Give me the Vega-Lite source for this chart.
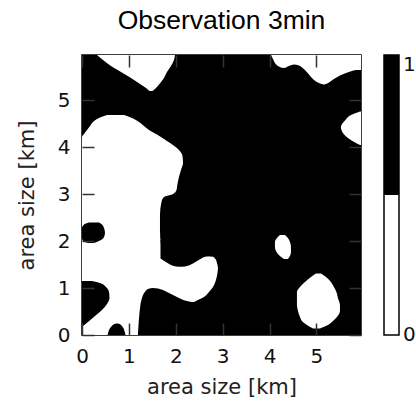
{
  "$schema": "https://vega.github.io/schema/vega-lite/v6.json",
  "width": 279,
  "height": 280,
  "autosize": {"type": "none"},
  "padding": {"left": 82, "top": 55, "right": 55, "bottom": 67},
  "title": {
    "text": "Observation 3min",
    "font": "Liberation Sans",
    "fontSize": 26.5,
    "fontWeight": "normal",
    "color": "#000",
    "anchor": "middle",
    "offset": 20
  },
  "config": {
    "view": {"fill": "#000", "stroke": "#000", "strokeWidth": 1.5},
    "axis": {
      "domain": false,
      "grid": false,
      "labelFlush": false,
      "tickSize": -12,
      "tickWidth": 1.5,
      "tickColor": "#333",
      "labelFont": "DejaVu Sans",
      "labelFontSize": 20,
      "labelColor": "#111",
      "titleFont": "DejaVu Sans",
      "titleFontSize": 21,
      "titleFontWeight": "normal",
      "titleColor": "#222"
    }
  },
  "datasets": {
    "rows": [
      {"shape": "A", "value": 0, "y": 5.97, "x1": 0.32, "x2": 1.983},
      {"shape": "A", "value": 0, "y": 5.864, "x1": 0.448, "x2": 1.962},
      {"shape": "A", "value": 0, "y": 5.736, "x1": 0.618, "x2": 1.898},
      {"shape": "A", "value": 0, "y": 5.608, "x1": 0.832, "x2": 1.812},
      {"shape": "A", "value": 0, "y": 5.48, "x1": 1.045, "x2": 1.748},
      {"shape": "A", "value": 0, "y": 5.352, "x1": 1.237, "x2": 1.652},
      {"shape": "A", "value": 0, "y": 5.267, "x1": 1.365, "x2": 1.578},
      {"shape": "A", "value": 0, "y": 5.203, "x1": 1.439, "x2": 1.503},

      {"shape": "B", "value": 0, "y": 4.691, "x1": 0.533, "x2": 0.896},
      {"shape": "B", "value": 0, "y": 4.627, "x1": 0.362, "x2": 1.066},
      {"shape": "B", "value": 0, "y": 4.542, "x1": 0.235, "x2": 1.215},
      {"shape": "B", "value": 0, "y": 4.456, "x1": 0.171, "x2": 1.322},
      {"shape": "B", "value": 0, "y": 4.371, "x1": 0.107, "x2": 1.429},
      {"shape": "B", "value": 0, "y": 4.286, "x1": 0.043, "x2": 1.578},
      {"shape": "B", "value": 0, "y": 4.222, "x1": 0, "x2": 1.684},
      {"shape": "B", "value": 0, "y": 4.136, "x1": 0, "x2": 1.812},
      {"shape": "B", "value": 0, "y": 4.051, "x1": 0, "x2": 1.94},
      {"shape": "B", "value": 0, "y": 3.945, "x1": 0, "x2": 2.068},
      {"shape": "B", "value": 0, "y": 3.817, "x1": 0, "x2": 2.143},
      {"shape": "B", "value": 0, "y": 3.667, "x1": 0, "x2": 2.154},
      {"shape": "B", "value": 0, "y": 3.518, "x1": 0, "x2": 2.111},
      {"shape": "B", "value": 0, "y": 3.369, "x1": 0, "x2": 2.068},
      {"shape": "B", "value": 0, "y": 3.22, "x1": 0, "x2": 2.036},
      {"shape": "B", "value": 0, "y": 3.092, "x1": 0, "x2": 2.015},
      {"shape": "B", "value": 0, "y": 3.006, "x1": 0, "x2": 1.94},
      {"shape": "B", "value": 0, "y": 2.942, "x1": 0, "x2": 1.748},
      {"shape": "B", "value": 0, "y": 2.836, "x1": 0, "x2": 1.695},
      {"shape": "B", "value": 0, "y": 2.559, "x1": 0, "x2": 1.663},
      {"shape": "B", "value": 0, "y": 2.239, "x1": 0, "x2": 1.663},
      {"shape": "B", "value": 0, "y": 1.919, "x1": 0, "x2": 1.684},
      {"shape": "B", "value": 0, "y": 1.812, "x1": 0, "x2": 1.706},
      {"shape": "B", "value": 0, "y": 1.706, "x1": 0, "x2": 1.727},
      {"shape": "B", "value": 0, "y": 1.674, "x1": 0, "x2": 2.783},
      {"shape": "B", "value": 0, "y": 1.62, "x1": 0, "x2": 2.846},
      {"shape": "B", "value": 0, "y": 1.535, "x1": 0, "x2": 2.878},
      {"shape": "B", "value": 0, "y": 1.429, "x1": 0, "x2": 2.9},
      {"shape": "B", "value": 0, "y": 1.322, "x1": 0, "x2": 2.889},
      {"shape": "B", "value": 0, "y": 1.173, "x1": 0, "x2": 2.857},
      {"shape": "B", "value": 0, "y": 1.023, "x1": 0, "x2": 2.793},
      {"shape": "B", "value": 0, "y": 0.917, "x1": 0, "x2": 2.708},
      {"shape": "B", "value": 0, "y": 0.81, "x1": 0, "x2": 2.601},
      {"shape": "B", "value": 0, "y": 0.725, "x1": 0, "x2": 2.431},
      {"shape": "B", "value": 0, "y": 0.533, "x1": 0, "x2": 2.196},
      {"shape": "B", "value": 0, "y": 0, "x1": 0, "x2": 2.196},

      {"shape": "E", "value": 0, "y": 4.766, "x1": 5.928, "x2": 5.95},
      {"shape": "E", "value": 0, "y": 4.691, "x1": 5.736, "x2": 5.95},
      {"shape": "E", "value": 0, "y": 4.584, "x1": 5.618, "x2": 5.95},
      {"shape": "E", "value": 0, "y": 4.435, "x1": 5.522, "x2": 5.95},
      {"shape": "E", "value": 0, "y": 4.307, "x1": 5.565, "x2": 5.95},
      {"shape": "E", "value": 0, "y": 4.2, "x1": 5.672, "x2": 5.95},
      {"shape": "E", "value": 0, "y": 4.094, "x1": 5.842, "x2": 5.95},
      {"shape": "E", "value": 0, "y": 4.051, "x1": 5.928, "x2": 5.95},

      {"shape": "F", "value": 0, "y": 2.132, "x1": 4.221, "x2": 4.328},
      {"shape": "F", "value": 0, "y": 2.068, "x1": 4.158, "x2": 4.392},
      {"shape": "F", "value": 0, "y": 1.983, "x1": 4.115, "x2": 4.435},
      {"shape": "F", "value": 0, "y": 1.876, "x1": 4.115, "x2": 4.456},
      {"shape": "F", "value": 0, "y": 1.77, "x1": 4.147, "x2": 4.456},
      {"shape": "F", "value": 0, "y": 1.684, "x1": 4.221, "x2": 4.435},
      {"shape": "F", "value": 0, "y": 1.62, "x1": 4.307, "x2": 4.392},

      {"shape": "G", "value": 0, "y": 1.311, "x1": 4.989, "x2": 5.096},
      {"shape": "G", "value": 0, "y": 1.237, "x1": 4.883, "x2": 5.203},
      {"shape": "G", "value": 0, "y": 1.13, "x1": 4.755, "x2": 5.309},
      {"shape": "G", "value": 0, "y": 1.023, "x1": 4.648, "x2": 5.373},
      {"shape": "G", "value": 0, "y": 0.917, "x1": 4.584, "x2": 5.426},
      {"shape": "G", "value": 0, "y": 0.789, "x1": 4.584, "x2": 5.458},
      {"shape": "G", "value": 0, "y": 0.64, "x1": 4.584, "x2": 5.501},
      {"shape": "G", "value": 0, "y": 0.512, "x1": 4.606, "x2": 5.501},
      {"shape": "G", "value": 0, "y": 0.384, "x1": 4.648, "x2": 5.437},
      {"shape": "G", "value": 0, "y": 0.299, "x1": 4.691, "x2": 5.352},
      {"shape": "G", "value": 0, "y": 0.213, "x1": 4.797, "x2": 5.245},
      {"shape": "G", "value": 0, "y": 0.139, "x1": 4.925, "x2": 5.075},

      {"shape": "H1", "value": 1, "y": 2.399, "x1": 0.149, "x2": 0.362},
      {"shape": "H1", "value": 1, "y": 2.356, "x1": 0.043, "x2": 0.426},
      {"shape": "H1", "value": 1, "y": 2.281, "x1": 0, "x2": 0.469},
      {"shape": "H1", "value": 1, "y": 2.175, "x1": 0, "x2": 0.49},
      {"shape": "H1", "value": 1, "y": 2.068, "x1": 0, "x2": 0.458},
      {"shape": "H1", "value": 1, "y": 2.004, "x1": 0.021, "x2": 0.362},
      {"shape": "H1", "value": 1, "y": 1.962, "x1": 0.128, "x2": 0.256},

      {"shape": "H2", "value": 1, "y": 1.151, "x1": 0, "x2": 0.213},
      {"shape": "H2", "value": 1, "y": 1.109, "x1": 0, "x2": 0.384},
      {"shape": "H2", "value": 1, "y": 1.023, "x1": 0, "x2": 0.512},
      {"shape": "H2", "value": 1, "y": 0.917, "x1": 0, "x2": 0.576},
      {"shape": "H2", "value": 1, "y": 0.789, "x1": 0, "x2": 0.586},
      {"shape": "H2", "value": 1, "y": 0.661, "x1": 0, "x2": 0.533},
      {"shape": "H2", "value": 1, "y": 0.533, "x1": 0, "x2": 0.426},
      {"shape": "H2", "value": 1, "y": 0.405, "x1": 0, "x2": 0.277},
      {"shape": "H2", "value": 1, "y": 0.277, "x1": 0, "x2": 0.128},
      {"shape": "H2", "value": 1, "y": 0.192, "x1": 0, "x2": 0.021}
    ],
    "cols": [
      {"shape": "T", "value": 0, "x": 4.03, "y1": 5.97, "y2": 5.97},
      {"shape": "T", "value": 0, "x": 4.062, "y1": 5.906, "y2": 5.97},
      {"shape": "T", "value": 0, "x": 4.115, "y1": 5.8, "y2": 5.97},
      {"shape": "T", "value": 0, "x": 4.2, "y1": 5.725, "y2": 5.97},
      {"shape": "T", "value": 0, "x": 4.307, "y1": 5.693, "y2": 5.97},
      {"shape": "T", "value": 0, "x": 4.414, "y1": 5.736, "y2": 5.97},
      {"shape": "T", "value": 0, "x": 4.52, "y1": 5.768, "y2": 5.97},
      {"shape": "T", "value": 0, "x": 4.627, "y1": 5.746, "y2": 5.97},
      {"shape": "T", "value": 0, "x": 4.733, "y1": 5.672, "y2": 5.97},
      {"shape": "T", "value": 0, "x": 4.84, "y1": 5.554, "y2": 5.97},
      {"shape": "T", "value": 0, "x": 4.947, "y1": 5.437, "y2": 5.97},
      {"shape": "T", "value": 0, "x": 5.053, "y1": 5.373, "y2": 5.97},
      {"shape": "T", "value": 0, "x": 5.16, "y1": 5.341, "y2": 5.97},
      {"shape": "T", "value": 0, "x": 5.267, "y1": 5.384, "y2": 5.97},
      {"shape": "T", "value": 0, "x": 5.373, "y1": 5.458, "y2": 5.97},
      {"shape": "T", "value": 0, "x": 5.501, "y1": 5.533, "y2": 5.97},
      {"shape": "T", "value": 0, "x": 5.629, "y1": 5.586, "y2": 5.97},
      {"shape": "T", "value": 0, "x": 5.757, "y1": 5.629, "y2": 5.97},
      {"shape": "T", "value": 0, "x": 5.864, "y1": 5.65, "y2": 5.97},
      {"shape": "T", "value": 0, "x": 5.95, "y1": 5.65, "y2": 5.97},

      {"shape": "N", "value": 1, "x": 1.674, "y1": 1.631, "y2": 2.026},
      {"shape": "N", "value": 1, "x": 1.77, "y1": 1.567, "y2": 2.026},
      {"shape": "N", "value": 1, "x": 1.876, "y1": 1.503, "y2": 2.026},
      {"shape": "N", "value": 1, "x": 2.004, "y1": 1.461, "y2": 2.026},
      {"shape": "N", "value": 1, "x": 2.132, "y1": 1.454, "y2": 2.026},
      {"shape": "N", "value": 1, "x": 2.26, "y1": 1.475, "y2": 2.026},
      {"shape": "N", "value": 1, "x": 2.367, "y1": 1.525, "y2": 2.026},
      {"shape": "N", "value": 1, "x": 2.473, "y1": 1.588, "y2": 2.026},
      {"shape": "N", "value": 1, "x": 2.58, "y1": 1.652, "y2": 2.026},
      {"shape": "N", "value": 1, "x": 2.687, "y1": 1.678, "y2": 2.026},
      {"shape": "N", "value": 1, "x": 2.772, "y1": 1.674, "y2": 2.026},

      {"shape": "L", "value": 1, "x": 1.194, "y1": 0.021, "y2": 0},
      {"shape": "L", "value": 1, "x": 1.205, "y1": 0.213, "y2": 0},
      {"shape": "L", "value": 1, "x": 1.222, "y1": 0.426, "y2": 0},
      {"shape": "L", "value": 1, "x": 1.243, "y1": 0.618, "y2": 0},
      {"shape": "L", "value": 1, "x": 1.279, "y1": 0.789, "y2": 0},
      {"shape": "L", "value": 1, "x": 1.333, "y1": 0.906, "y2": 0},
      {"shape": "L", "value": 1, "x": 1.407, "y1": 0.981, "y2": 0},
      {"shape": "L", "value": 1, "x": 1.514, "y1": 1.002, "y2": 0},
      {"shape": "L", "value": 1, "x": 1.62, "y1": 0.991, "y2": 0},
      {"shape": "L", "value": 1, "x": 1.727, "y1": 0.959, "y2": 0},
      {"shape": "L", "value": 1, "x": 1.855, "y1": 0.896, "y2": 0},
      {"shape": "L", "value": 1, "x": 1.983, "y1": 0.832, "y2": 0},
      {"shape": "L", "value": 1, "x": 2.111, "y1": 0.768, "y2": 0},
      {"shape": "L", "value": 1, "x": 2.239, "y1": 0.725, "y2": 0},
      {"shape": "L", "value": 1, "x": 2.367, "y1": 0.704, "y2": 0},
      {"shape": "L", "value": 1, "x": 2.495, "y1": 0.714, "y2": 0},
      {"shape": "L", "value": 1, "x": 2.601, "y1": 0.757, "y2": 0},
      {"shape": "L", "value": 1, "x": 2.708, "y1": 0.842, "y2": 0},
      {"shape": "L", "value": 1, "x": 2.793, "y1": 0.959, "y2": 0},
      {"shape": "L", "value": 1, "x": 2.857, "y1": 1.13, "y2": 0},

      {"shape": "K", "value": 1, "x": 0.544, "y1": 0, "y2": 0},
      {"shape": "K", "value": 1, "x": 0.576, "y1": 0.107, "y2": 0},
      {"shape": "K", "value": 1, "x": 0.618, "y1": 0.171, "y2": 0},
      {"shape": "K", "value": 1, "x": 0.672, "y1": 0.224, "y2": 0},
      {"shape": "K", "value": 1, "x": 0.736, "y1": 0.245, "y2": 0},
      {"shape": "K", "value": 1, "x": 0.8, "y1": 0.235, "y2": 0},
      {"shape": "K", "value": 1, "x": 0.853, "y1": 0.192, "y2": 0},
      {"shape": "K", "value": 1, "x": 0.896, "y1": 0.117, "y2": 0},
      {"shape": "K", "value": 1, "x": 0.928, "y1": 0, "y2": 0}
    ]
  },
  "layer": [
    {
      "data": {"name": "rows"},
      "transform": [{"filter": "datum.value == 0"}],
      "mark": {"type": "area", "orient": "horizontal", "interpolate": "monotone", "clip": true},
      "encoding": {
        "y": {
          "field": "y", "type": "quantitative",
          "scale": {"domain": [0, 5.97], "nice": false, "zero": false},
          "axis": {"orient": "left", "zindex": 2, "values": [0, 1, 2, 3, 4, 5], "title": "area size [km]", "labelPadding": 24, "titlePadding": 20}
        },
        "x": {
          "field": "x1", "type": "quantitative", "stack": null,
          "scale": {"domain": [0, 5.95], "nice": false, "zero": false},
          "axis": {"orient": "bottom", "zindex": 2, "values": [0, 1, 2, 3, 4, 5], "title": "area size [km]", "labelPadding": 23, "titlePadding": 10}
        },
        "x2": {"field": "x2"},
        "detail": {"field": "shape"},
        "color": {
          "field": "value", "type": "quantitative",
          "scale": {"type": "linear", "domain": [0, 1], "range": ["#ffffff", "#000000"]},
          "legend": {
            "type": "gradient",
            "orient": "none",
            "legendX": 302,
            "legendY": 0,
            "direction": "vertical",
            "padding": 0,
            "title": null,
            "values": [0, 1],
            "format": ".0f",
            "gradientLength": 280,
            "gradientThickness": 15,
            "gradientStrokeColor": "#000",
            "gradientStrokeWidth": 1.5,
            "labelFont": "DejaVu Sans",
            "labelFontSize": 20,
            "labelColor": "#111",
            "labelOffset": 4,
            "labelOverlap": false,
            "encode": {
              "labels": {
                "update": {
                  "baseline": {"signal": "datum.value == 1 ? 'top' : 'middle'"}
                }
              },
              "gradient": {
                "update": {
                  "fill": {
                    "value": {
                      "gradient": "linear",
                      "x1": 0, "y1": 0, "x2": 0, "y2": 1,
                      "stops": [
                        {"offset": 0, "color": "#000000"},
                        {"offset": 0.5, "color": "#000000"},
                        {"offset": 0.5, "color": "#ffffff"},
                        {"offset": 1, "color": "#ffffff"}
                      ]
                    }
                  }
                }
              }
            }
          }
        }
      }
    },
    {
      "data": {"name": "cols"},
      "mark": {"type": "area", "orient": "vertical", "interpolate": "monotone", "clip": true},
      "encoding": {
        "x": {
          "field": "x", "type": "quantitative",
          "scale": {"domain": [0, 5.95], "nice": false, "zero": false},
          "axis": {"orient": "top", "zindex": 2, "values": [0, 1, 2, 3, 4, 5], "labels": false, "title": null}
        },
        "y": {
          "field": "y1", "type": "quantitative", "stack": null,
          "scale": {"domain": [0, 5.97], "nice": false, "zero": false},
          "axis": {"orient": "right", "zindex": 2, "values": [0, 1, 2, 3, 4, 5], "labels": false, "title": null}
        },
        "y2": {"field": "y2"},
        "detail": {"field": "shape"},
        "color": {
          "field": "value", "type": "quantitative",
          "scale": {"type": "linear", "domain": [0, 1], "range": ["#ffffff", "#000000"]},
          "legend": null
        }
      }
    },
    {
      "data": {"name": "rows"},
      "transform": [{"filter": "datum.value == 1"}],
      "mark": {"type": "area", "orient": "horizontal", "interpolate": "monotone", "clip": true},
      "encoding": {
        "y": {"field": "y", "type": "quantitative", "scale": {"domain": [0, 5.97], "nice": false, "zero": false}, "axis": null},
        "x": {"field": "x1", "type": "quantitative", "stack": null, "scale": {"domain": [0, 5.95], "nice": false, "zero": false}, "axis": null},
        "x2": {"field": "x2"},
        "detail": {"field": "shape"},
        "color": {
          "field": "value", "type": "quantitative",
          "scale": {"type": "linear", "domain": [0, 1], "range": ["#ffffff", "#000000"]},
          "legend": null
        }
      }
    }
  ]
}
